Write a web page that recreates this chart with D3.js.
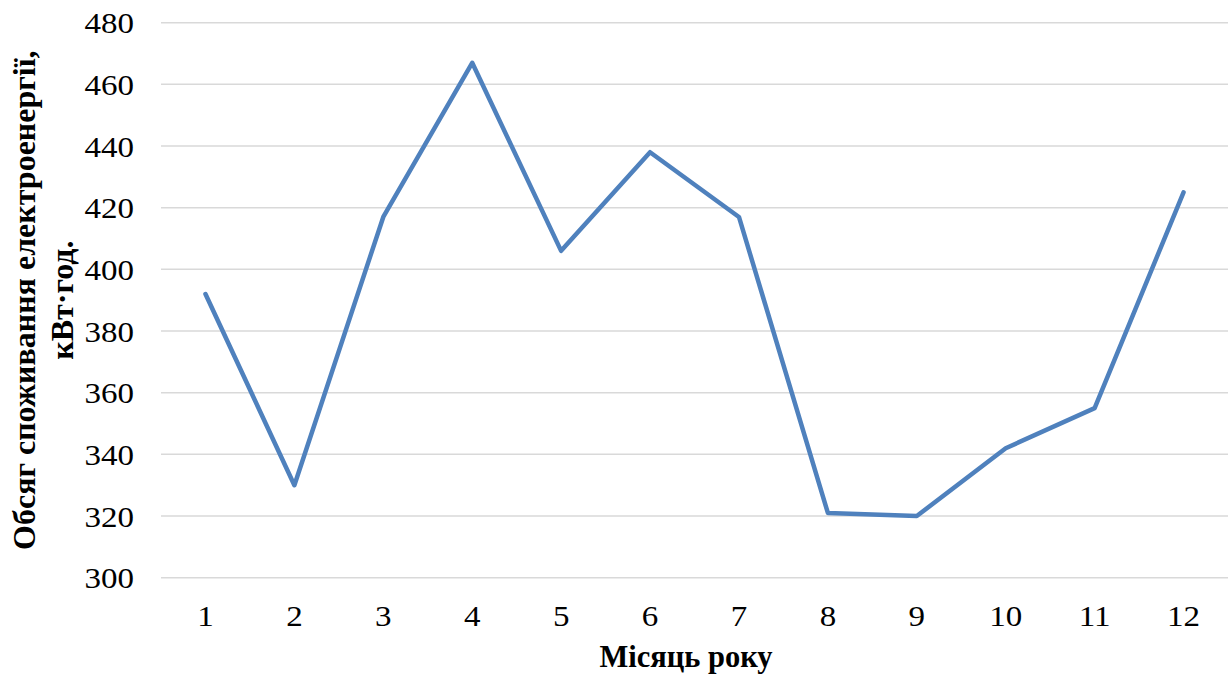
<!DOCTYPE html>
<html>
<head>
<meta charset="utf-8">
<script src="https://cdn.jsdelivr.net/npm/d3@7/dist/d3.min.js"></script>
<style>
  html, body { margin: 0; padding: 0; background: #ffffff; }
  svg { display: block; }
  text { font-family: "Liberation Serif", "Times New Roman", serif; fill: #000; }
</style>
</head>
<body>
<svg id="chart" width="1230" height="675"></svg>
<script>
// Monthly electricity consumption, kWh
const months = ["1", "2", "3", "4", "5", "6", "7", "8", "9", "10", "11", "12"];
const consumption = [392, 330, 417, 467, 406, 438, 417, 321, 320, 342, 355, 425];
const yTicks = [300, 320, 340, 360, 380, 400, 420, 440, 460, 480];
const yTitleLines = ["Обсяг споживання електроенергії,", "кВт·год."];
const xTitle = "Місяць року";

const W = 1230, H = 675;
const margin = { top: 22.7, right: 2, bottom: 97.3, left: 161 };
const innerW = W - margin.left - margin.right;
const innerH = H - margin.top - margin.bottom;
const tickWiden = 1.1;

const svg = d3.select("#chart");
const g = svg.append("g").attr("transform", `translate(${margin.left},${margin.top})`);

const x = d3.scaleBand().domain(months).range([0, innerW]);
const y = d3.scaleLinear().domain([300, 480]).range([innerH, 0]);

// Horizontal gridlines
g.append("g")
  .selectAll("line")
  .data(yTicks)
  .join("line")
  .attr("x1", 0)
  .attr("x2", innerW)
  .attr("y1", d => y(d))
  .attr("y2", d => y(d))
  .attr("stroke", "#d9d9d9")
  .attr("stroke-width", 1.5);

// Y axis tick labels
const yAxis = g.append("g")
  .call(d3.axisLeft(y).tickValues(yTicks).tickSize(0).tickPadding(27));
yAxis.select(".domain").remove();
yAxis.selectAll("text")
  .attr("font-size", 30)
  .attr("font-family", "Liberation Serif")
  .attr("dy", "0.34em")
  .attr("x", 0)
  .attr("transform", `translate(-27,0) scale(${tickWiden},1)`);

// X axis tick labels
const xAxis = g.append("g")
  .attr("transform", `translate(0,${innerH})`)
  .call(d3.axisBottom(x).tickSize(0).tickPadding(27));
xAxis.select(".domain").remove();
xAxis.selectAll("text")
  .attr("font-size", 30)
  .attr("font-family", "Liberation Serif")
  .attr("transform", `scale(${tickWiden},1)`);

// Consumption line
const line = d3.line()
  .x((d, i) => x(months[i]) + x.bandwidth() / 2)
  .y(d => y(d));

g.append("path")
  .datum(consumption)
  .attr("fill", "none")
  .attr("stroke", "#4f81bd")
  .attr("stroke-width", 4.5)
  .attr("stroke-linejoin", "round")
  .attr("stroke-linecap", "round")
  .attr("d", line);

// X axis title
svg.append("text")
  .attr("x", 686)
  .attr("y", 667)
  .attr("text-anchor", "middle")
  .attr("font-size", 30.5)
  .attr("font-weight", "bold")
  .text(xTitle);

// Y axis title (two lines, rotated)
const yTitle = svg.append("text")
  .attr("transform", `translate(0,${margin.top + innerH / 2}) rotate(-90)`)
  .attr("text-anchor", "middle")
  .attr("font-size", 32)
  .attr("font-weight", "bold");
yTitle.selectAll("tspan")
  .data(yTitleLines)
  .join("tspan")
  .attr("x", 0)
  .attr("y", (d, i) => 35 + i * 38)
  .text(d => d);
</script>
</body>
</html>
